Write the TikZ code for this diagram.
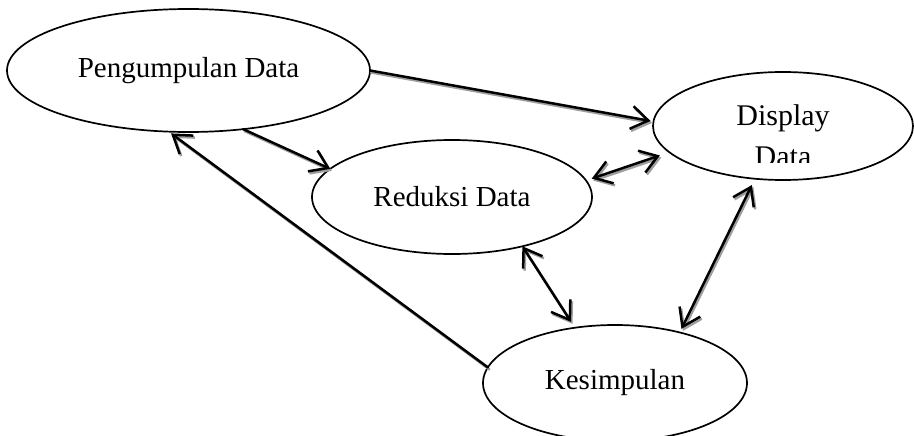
\documentclass[tikz,border=0pt]{standalone}
\usepackage{fontspec}
\setmainfont{Liberation Serif}
\usetikzlibrary{shapes.geometric,arrows.meta}
\tikzset{
  bubble/.style={draw, ellipse, line width=1.7pt, inner sep=0pt, outer sep=0pt, font=\fontsize{29pt}{35pt}\selectfont},
  conn/.style={line width=2.5pt, line cap=round},
  one/.style={arrows={-Straight Barb[length=17pt,width=23pt,line width=2.5pt]}},
  both/.style={arrows={Straight Barb[length=17pt,width=23pt,line width=2.5pt]-Straight Barb[length=17pt,width=23pt,line width=2.5pt]}},
  shade/.style={conn, draw=black!38},
  ink/.style={conn, draw=black},
}
\newcommand\link[3]{%
  \begin{scope}[transform canvas={shift={(1.5pt,-2pt)}}]\draw[shade,#1] (#2) -- (#3);\end{scope}
  \draw[ink,#1] (#2) -- (#3);}
\begin{document}
\begin{tikzpicture}[x=1pt,y=-1pt]
\clip (0,0) rectangle (914,436);
\fill[white] (0,0) rectangle (914,436);
\node[bubble, minimum width=363pt, minimum height=123pt] (P) at (188.5,70.5) {Pengumpulan Data};
\node[bubble, minimum width=280pt, minimum height=114pt] (R) at (452,197) {Reduksi Data};
\node[bubble, minimum width=260pt, minimum height=108pt] (D) at (783,126) {};
\node[bubble, minimum width=264pt, minimum height=116pt] (K) at (615,383) {Kesimpulan};
\node[anchor=base, inner sep=0pt, font=\fontsize{30pt}{36pt}\selectfont] (D1) at (783,125) {Display};
\begin{scope}
  \clip (700,130) rectangle (870,162);
  \node[anchor=base, inner sep=0pt, font=\fontsize{30pt}{36pt}\selectfont] (D2) at (783,166.5) {Data};
\end{scope}
\link{one, shorten >=3pt}{P.0}{D.178}
\link{one}{P.-47}{R.167}
\link{both, shorten <=6pt, shorten >=10pt}{R.7}{D.193}
\link{both, shorten >=7pt}{R.-35}{K.126}
\link{both, shorten <=7pt, shorten >=4pt}{D.242}{K.38}
\link{one, shorten >=3pt}{K.173}{P.252}
\end{tikzpicture}
\end{document}
